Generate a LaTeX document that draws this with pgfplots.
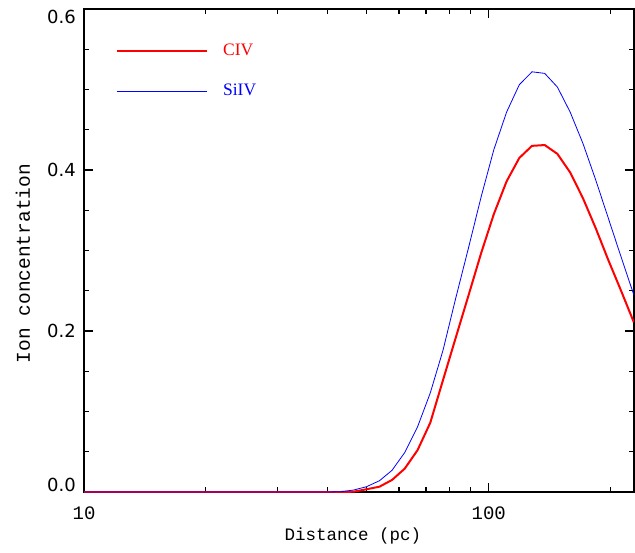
\documentclass[border=0pt]{standalone}
\usepackage{fontspec}
\setmainfont{Liberation Serif}
\newfontfamily\monof{Liberation Mono}
\newfontfamily\sansf{DejaVu Sans}
\usepackage{pgfplots}
\usepackage{pgfplotstable}
\pgfplotsset{compat=1.18}

\pgfplotstableread{
d civ siv
10 0 0
30 0 0
40.2 0 0
43.2 0 0.0004
46.4 0.0004 0.0025
49.9 0.0034 0.0066
53.7 0.0066 0.014
57.7 0.015 0.027
62.0 0.029 0.049
66.7 0.052 0.081
71.7 0.086 0.123
77.1 0.139 0.176
82.8 0.191 0.240
89.1 0.244 0.303
95.8 0.297 0.367
102.9 0.345 0.425
110.7 0.386 0.472
119.0 0.415 0.506
127.9 0.430 0.522
137.5 0.431 0.520
147.8 0.420 0.503
158.9 0.397 0.472
170.9 0.365 0.433
183.7 0.328 0.388
197.5 0.288 0.340
212.3 0.250 0.292
228.2 0.211 0.245
}\iondata

\begin{document}
\begin{tikzpicture}
\useasboundingbox (-84pt,-60pt) rectangle (551pt,492pt);
\begin{axis}[
  at={(0,0)}, anchor=south west,
  scale only axis, width=550pt, height=483pt,
  xmode=log, log basis x=10,
  xmin=10, xmax=228.5, ymin=0, ymax=0.6,
  xtick={10,100}, xticklabels={10,100},
  minor xtick={20,30,40,50,60,70,80,90,200},
  ytick={0,0.2,0.4,0.6},
  yticklabels={\raisebox{7pt}{0.0},0.2,0.4,\raisebox{-8pt}{0.6}},
  minor ytick={0.05,0.1,0.15,0.25,0.3,0.35,0.45,0.5,0.55},
  tick align=inside, tick pos=both,
  major tick length=9pt, minor tick length=5pt,
  every tick/.style={black, line width=1.1pt},
  axis line style={black, line width=1.6pt},
  yticklabel style={font=\sansf\fontsize{18}{20}\selectfont, anchor=base east, inner sep=0pt, xshift=-8pt, yshift=-6.5pt},
  xticklabel style={font=\monof\fontsize{19}{22}\selectfont, anchor=north, inner sep=0pt, yshift=-15pt},
  xlabel={Distance (pc)},
  xlabel style={font=\monof\fontsize{17.5}{20}\selectfont, at={(axis description cs:0.489,0)}, anchor=base, yshift=-48pt},
  ylabel={Ion concentration},
  ylabel style={font=\monof\fontsize{19.5}{22}\selectfont, at={(axis description cs:-0.0982,0.473)}, anchor=base},
  legend style={draw=none, fill=none, at={(rel axis cs:0.058,1)}, anchor=north west, yshift=-34pt, inner sep=0pt, row sep=24pt, column sep=15pt, font=\fontsize{17.5}{20}\selectfont, nodes={inner sep=0pt, text height=12pt, text depth=4pt}},
  legend cell align=left,
  legend image code/.code={\draw[#1] (0pt,0pt) -- (90pt,0pt);},
]
\addplot[red, line width=2pt] table[x=d, y=civ] {\iondata};
\addlegendentry{\textcolor{red}{CIV}}
\addplot[blue, line width=0.8pt] table[x=d, y=siv] {\iondata};
\addlegendentry{\textcolor{blue}{SiIV}}
\end{axis}
\end{tikzpicture}
\end{document}
